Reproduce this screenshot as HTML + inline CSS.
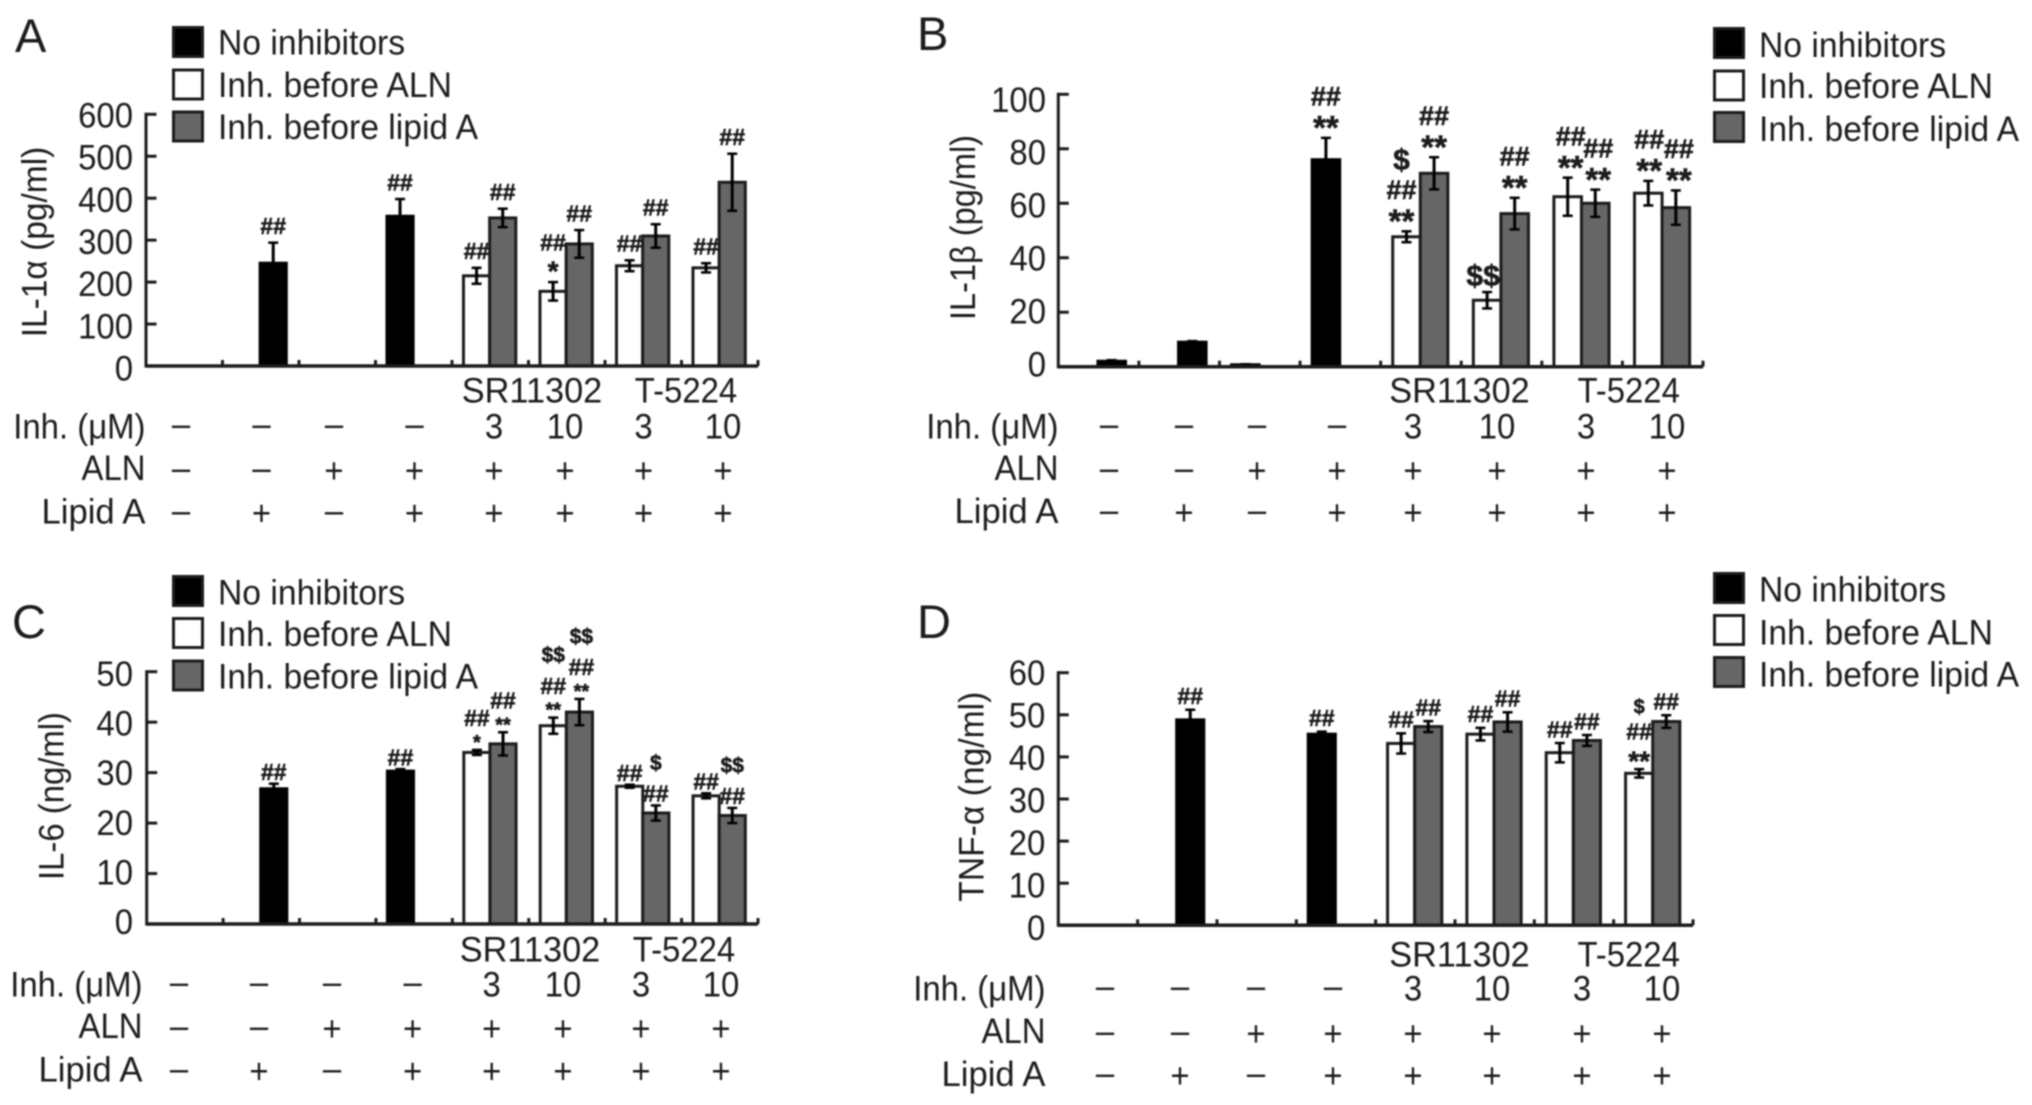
<!DOCTYPE html>
<html lang="en">
<head>
<meta charset="utf-8">
<title>Cytokine release bar charts</title>
<style>
html,body{margin:0;padding:0;background:#fff;width:2032px;height:1105px;overflow:hidden}
svg{display:block;filter:blur(0.75px)}
text{font-family:"Liberation Sans",sans-serif;fill:#1c1c1c}
</style>
</head>
<body>
<svg id="figure" xmlns="http://www.w3.org/2000/svg" width="2032" height="1105" viewBox="0 0 2032 1105"></svg>
<script>
// ---------- data ----------
const legendLabels = ['No inhibitors', 'Inh. before ALN', 'Inh. before lipid A'];
const inhDoses = ['–', '–', '–', '–', '3', '10', '3', '10'];
const alnRow = ['–', '–', '+', '+', '+', '+', '+', '+'];
const lipidRow = ['–', '+', '–', '+', '+', '+', '+', '+'];

const ticksA = [0, 100, 200, 300, 400, 500, 600];
const noInhA = [null, 245, null, 357];
const noInhErrA = [null, 49, null, 41];
const alnA = [215, 178, 239, 234];
const alnErrA = [19, 22, 13, 11];
const lipidA = [353, 291, 310, 438];
const lipidErrA = [22, 33, 28, 68];
const marksA = [['k',1,'##'],['k',3,'##'],['w',4,'##'],['g',4,'##'],['w',5,'* ##'],['g',5,'##'],['w',6,'##'],['g',6,'##'],['w',7,'##'],['g',7,'##']];

const ticksB = [0, 20, 40, 60, 80, 100];
const noInhB = [2, 9, 0.7, 76];
const noInhErrB = [0.4, 0.4, 0.2, 8];
const alnB = [47.7, 24.4, 62.4, 63.7];
const alnErrB = [2, 3, 7, 4.5];
const lipidB = [71, 56.2, 60, 58.4];
const lipidErrB = [5.9, 5.8, 5, 6.3];
const marksB = [['k',3,'** ##'],['w',4,'** ## $'],['g',4,'** ##'],['w',5,'$$'],['g',5,'** ##'],['w',6,'** ##'],['g',6,'** ##'],['w',7,'** ##'],['g',7,'** ##']];

const ticksC = [0, 10, 20, 30, 40, 50];
const noInhC = [null, 26.8, null, 30.3];
const noInhErrC = [null, 1, null, 0.4];
const alnC = [34, 39.3, 27.3, 25.4];
const alnErrC = [0.5, 1.6, 0.3, 0.5];
const lipidC = [35.7, 42, 22, 21.5];
const lipidErrC = [2.3, 2.6, 1.5, 1.5];
const marksC = [['k',1,'##'],['k',3,'##'],['w',4,'* ##'],['g',4,'** ##'],['w',5,'** ## $$'],['g',5,'** ## $$'],['w',6,'##'],['g',6,'## $'],['w',7,'##'],['g',7,'## $$']];

const ticksD = [0, 10, 20, 30, 40, 50, 60];
const noInhD = [null, 48.8, null, 45.4];
const noInhErrD = [null, 2.4, null, 0.6];
const alnD = [43.2, 45.4, 41, 36.1];
const alnErrD = [2.4, 1.5, 2.3, 1];
const lipidD = [47.2, 48.3, 43.9, 48.4];
const lipidErrD = [1.3, 2.3, 1.3, 1.5];
const marksD = [['k',1,'##'],['k',3,'##'],['w',4,'##'],['g',4,'##'],['w',5,'##'],['g',5,'##'],['w',6,'##'],['g',6,'##'],['w',7,'** ## $'],['g',7,'##']];

// ---------- layout (separate from data) ----------
const SVGNS = 'http://www.w3.org/2000/svg';
const root = document.getElementById('figure');
function mk(tag, attrs, parent, txt) {
  const el = document.createElementNS(SVGNS, tag);
  for (const k in attrs) el.setAttribute(k, attrs[k]);
  if (txt !== undefined) el.textContent = txt;
  parent.appendChild(el);
  return el;
}
// text placed with a horizontal condensing factor (the source type is narrow and tall)
function label(x, y, s, sx, anchor, parent) {
  return mk('text', {x: 0, y: 0, 'font-size': FONT, 'text-anchor': anchor,
    transform: 'translate(' + x + ',' + y + ') scale(' + sx + ',1)'}, parent, s);
}
const BLACK = '#000', INK = '#1c1c1c', GREY = '#666';
const FONT = 35;

function drawPanel(p) {
  const g = mk('g', {}, root);
  
  

  const maxTick = p.ticks[p.ticks.length - 1];
  const yScale = v => p.y0 + (p.yTop - p.y0) * v / maxTick;
  const period = (p.xRight - p.x0) / 8;
  const barW = period * 0.342;
  const slotX = (cat, slot) => p.x0 + period * cat + period * 0.15 + slot * barW;
  const blackSlots = [1, 1, 0, 0];

  // panel letter
  const letter = mk('text', {x: p.letterX, y: p.letterY, 'font-size': 47}, g, p.id);
  
  

  // legend
  legendLabels.forEach((lab, i) => {
    const sw = mk('rect', {x: p.legX + 1.5, y: p.legY[i] + 1.5, width: 29, height: 29,
      fill: [BLACK, '#fff', GREY][i], stroke: INK, 'stroke-width': 3}, g);
    
    
    const t = label(p.legX + 46, p.legTextY[i], lab, 0.962, 'start', g);
    
    
  });

  // axis title (rotated, runs upward from its bottom end)
  const title = mk('text', {x: 0, y: 0, 'font-size': FONT, textLength: p.titleLen, lengthAdjust: 'spacingAndGlyphs',
    transform: 'translate(' + p.titleX + ',' + p.titleBottom + ') rotate(-90)'}, g, p.title);
  
  

  // y ticks
  p.ticks.forEach(v => {
    const y = yScale(v);
    const tk = mk('line', {x1: p.x0, x2: p.x0 + 10.5, y1: y, y2: y, stroke: INK, 'stroke-width': 3}, g);
    
    
    const off = p.labBot + (p.labTop - p.labBot) * v / maxTick;
    const lb = label(p.tickRight, y + off + 12.5, String(v), 0.94, 'end', g);
    
    
  });

  function bar(x, val, err, fill, name) {
    if (val === null) return;
    const top = yScale(val);
    const r = mk('rect', {x: x, y: top, width: barW, height: p.y0 - top, fill: fill,
      stroke: fill === BLACK ? BLACK : INK, 'stroke-width': 3}, g);
    
    
    const cx = x + barW / 2;
    const eTop = yScale(val + err), eBot = yScale(val - err);
    const stem = mk('line', {x1: cx, x2: cx, y1: eTop, y2: eBot, stroke: BLACK, 'stroke-width': 3}, g);
    
    
    [eTop, eBot].forEach(y => {
      const cap = mk('line', {x1: cx - 5, x2: cx + 5, y1: y, y2: y, stroke: BLACK, 'stroke-width': 2.5}, g);
      
      
    });
  }

  p.noInh.forEach((v, i) => bar(slotX(i, blackSlots[i]), v, p.noInhErr[i], BLACK, 'bar-no-inhibitors-' + i));
  p.aln.forEach((v, i) => bar(slotX(i + 4, 0), v, p.alnErr[i], '#fff', 'bar-before-aln-' + i));
  p.lipid.forEach((v, i) => bar(slotX(i + 4, 1), v, p.lipidErr[i], GREY, 'bar-before-lipid-' + i));

  // axes drawn over bars
  const yAxis = mk('line', {x1: p.x0, x2: p.x0, y1: p.yTop - 1.5, y2: p.y0 + 1.5, stroke: INK, 'stroke-width': 3}, g);
  
  
  const xAxis = mk('line', {x1: p.x0, x2: p.xRight, y1: p.y0, y2: p.y0, stroke: INK, 'stroke-width': 3.5}, g);
  
  
  for (let i = 1; i <= 8; i++) {
    const tx = p.x0 + period * i;
    const t = mk('line', {x1: tx, x2: tx, y1: p.y0, y2: p.y0 - 6, stroke: INK, 'stroke-width': 3}, g);
    
    
  }

  // significance annotations, stacked upward from the error-bar top
  p.marks.forEach(m => {
    const kind = m[0], cat = m[1], tokens = m[2].split(' ');
    const shift = (p.markShift && p.markShift[kind + cat]) || 0;
    let cx, top;
    if (kind === 'k') {
      cx = slotX(cat, blackSlots[cat]) + barW / 2;
      top = yScale(p.noInh[cat] + p.noInhErr[cat]);
    } else if (kind === 'w') {
      cx = slotX(cat, 0) + barW / 2 + shift;
      top = yScale(p.aln[cat - 4] + p.alnErr[cat - 4]);
    } else {
      cx = slotX(cat, 1) + barW / 2 + shift;
      top = yScale(p.lipid[cat - 4] + p.lipidErr[cat - 4]);
    }
    let yc = top - p.markGap;
    tokens.forEach((tok, j) => {
      const isStar = tok[0] === '*';
      const fs = isStar ? p.starSize : tok[0] === '$' ? p.dollarSize : p.hashSize;
      const base = yc + fs * (isStar ? 0.55 : 0.36);
      const t = mk('text', {x: cx, y: base, 'font-size': fs, 'font-weight': 700, 'text-anchor': 'middle',
        fill: '#111', stroke: '#111', 'stroke-width': 0.5}, g, tok);
      
      
      const next = tokens[j + 1];
      yc -= (next && next[0] === '$') ? p.dollarStep : p.markStep;
    });
  });

  // condition rows
  const grp1 = label(p.srX, p.srY + 12.5, 'SR11302', 0.98, 'middle', g);
  
  
  const grp2 = label(p.tX, p.srY + 12.5, 'T-5224', 0.94, 'middle', g);
  
  

  const labelLift = [1, 3.5, 2.5];
  const labelSquash = [0.94, 0.94, 0.99];
  [['Inh. (μM)', inhDoses], ['ALN', alnRow], ['Lipid A', lipidRow]].forEach((row, r) => {
    const y = p.rowY[r];
    const lab = label(p.rowRight + 0.5, y + 12.5 - labelLift[r], row[0], labelSquash[r], 'end', g);
    
    
    row[1].forEach((s, i) => {
      const dy = s === '–' ? 9 : 11.5;
      const t = label(p.colX[i], y + dy, s, 0.94, 'middle', g);
      
      
    });
  });
}

drawPanel({id: 'A', title: 'IL-1α (pg/ml)', ticks: ticksA,
  noInh: noInhA, noInhErr: noInhErrA, aln: alnA, alnErr: alnErrA, lipid: lipidA, lipidErr: lipidErrA, marks: marksA,
  x0: 146, y0: 366, yTop: 114.3, xRight: 758, tickRight: 133, labTop: 0.7, labBot: 2,
  letterX: 15, letterY: 52, legX: 172, legY: [26, 68.5, 110.5], legTextY: [54.5, 97, 139],
  titleX: 46.7, titleBottom: 337.3, titleLen: 190.6,
  srX: 532, tX: 686, srY: 390, rowY: [427, 471, 513.5], rowRight: 145,
  colX: [181, 261.5, 334, 414.5, 494, 565, 643.5, 723],
  hashSize: 23, starSize: 28, dollarSize: 23, markGap: 17, markStep: 23, dollarStep: 26});

drawPanel({id: 'B', title: 'IL-1β (pg/ml)', ticks: ticksB,
  noInh: noInhB, noInhErr: noInhErrB, aln: alnB, alnErr: alnErrB, lipid: lipidB, lipidErr: lipidErrB, marks: marksB,
  x0: 1058.3, y0: 366.7, yTop: 94.3, xRight: 1703, tickRight: 1046, labTop: 5, labBot: -2.7,
  letterX: 917, letterY: 50, legX: 1713, legY: [27, 69.5, 111], legTextY: [57, 98, 141],
  titleX: 975, titleBottom: 320, titleLen: 185,
  srX: 1459.5, tX: 1628.7, srY: 390, rowY: [427, 471, 513], rowRight: 1058,
  colX: [1109, 1184, 1257, 1337, 1413, 1497, 1586, 1667],
  hashSize: 27, starSize: 33, dollarSize: 30, markGap: 17, markStep: 25, dollarStep: 30,
  markShift: {w4: -5, w5: -4, w6: 3, g6: 3, w7: 1, g7: 3}});

drawPanel({id: 'C', title: 'IL-6 (ng/ml)', ticks: ticksC,
  noInh: noInhC, noInhErr: noInhErrC, aln: alnC, alnErr: alnErrC, lipid: lipidC, lipidErr: lipidErrC, marks: marksC,
  x0: 146.7, y0: 924, yTop: 671.7, xRight: 758, tickRight: 133, labTop: 1.7, labBot: -2.3,
  letterX: 12, letterY: 638, legX: 172, legY: [575, 617, 659.5], legTextY: [604.5, 646, 688.5],
  titleX: 63.3, titleBottom: 880, titleLen: 168,
  srX: 530, tX: 684, srY: 949, rowY: [985, 1029, 1071.5], rowRight: 142,
  colX: [179, 259, 332, 412.6, 491.7, 563, 641, 721],
  hashSize: 23, starSize: 20, dollarSize: 21, markGap: 12, markStep: 20, dollarStep: 31,
  markShift: {g5: 2}});

drawPanel({id: 'D', title: 'TNF-α (ng/ml)', ticks: ticksD,
  noInh: noInhD, noInhErr: noInhErrD, aln: alnD, alnErr: alnErrD, lipid: lipidD, lipidErr: lipidErrD, marks: marksD,
  x0: 1058.3, y0: 925.3, yTop: 672.7, xRight: 1693, tickRight: 1045.3, labTop: 0, labBot: 2,
  letterX: 917, letterY: 638, legX: 1713, legY: [572, 614, 656], legTextY: [601.5, 644.5, 686.5],
  titleX: 983.3, titleBottom: 901.7, titleLen: 210,
  srX: 1459.5, tX: 1628.7, srY: 954, rowY: [989, 1034, 1076], rowRight: 1045,
  colX: [1105, 1180, 1256, 1333, 1413, 1492, 1582, 1662],
  hashSize: 23, starSize: 28, dollarSize: 20, markGap: 14, markStep: 24, dollarStep: 25});
</script>
</body>
</html>
